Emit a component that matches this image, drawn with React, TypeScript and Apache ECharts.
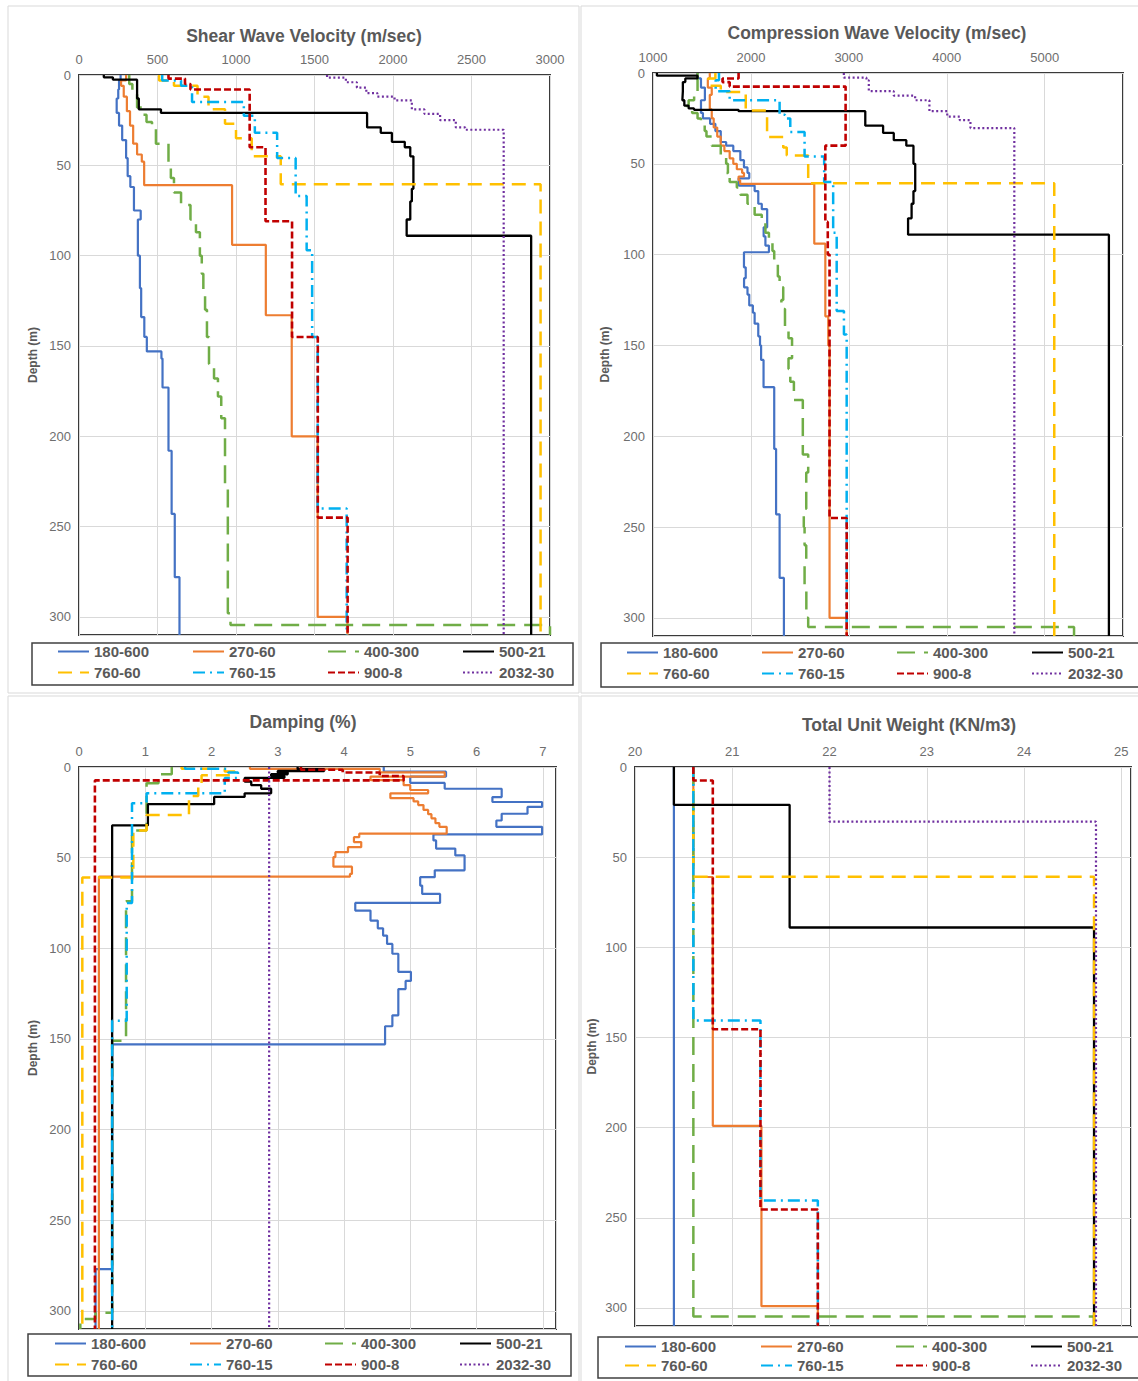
import React, { useEffect, useRef } from 'react';
import * as echarts from 'echarts';

// ---------------- DATA ----------------
// Each profile: list of [layer top depth (m), value]; last layer runs to DEPTH_MAX.
const SITES = ['180-600', '270-60', '400-300', '500-21', '760-60', '760-15', '900-8', '2032-30'];
const DEPTH_MAX = 310;
const DEPTH_TICK = 50;

// Shear wave velocity (m/sec)
const VS_180_600 = [[0,265],[3,255],[8,250],[13,240],[21,255],[28,275],[36,300],[46,310],[56,327],[62,350],[75,393],[80,375],[100,388],[118,396],[134,416],[145,432],[153,525],[157,532],[173,570],[208,590],[243,610],[278,640]];
const VS_270_60 = [[0,300],[3,268],[6,285],[12,305],[20,325],[28,345],[38,370],[44,400],[48,415],[61,975],[94,1190],[133,1355],[200,1520],[300,1710]];
const VS_400_300 = [[0,320],[5,340],[10,370],[18,400],[22,430],[26,465],[30,490],[38,570],[50,585],[57,605],[65,650],[72,710],[80,745],[87,770],[100,782],[110,792],[120,803],[130,815],[145,828],[160,860],[168,885],[178,906],[190,930],[228,948],[298,965],[304.5,3000]];
const VS_500_21 = [[0,158],[1.3,216],[2.6,370],[13,381],[19,522],[21,1835],[29,1922],[32,1993],[37,2075],[40,2110],[45,2130],[63,2120],[70,2110],[80,2087],[89,2880]];
const VS_760_60 = [[0,510],[3,605],[6,755],[12,825],[19,930],[27,1000],[35,1100],[45,1285],[60.5,2940]];
const VS_760_15 = [[0,530],[3,650],[6,720],[15,1050],[22.6,1120],[32,1262],[46,1380],[67,1450],[97,1485],[145,1520],[240,1705]];
const VS_900_8 = [[0,570],[2,675],[5,710],[8,1087],[40,1188],[81,1357],[145,1521],[245,1711]];
const VS_2032_30 = [[0,1580],[1.5,1700],[4,1770],[7,1830],[10,1900],[12,2010],[14,2120],[19,2200],[21.5,2300],[25,2400],[29,2460],[30.3,2705]];

// Compression wave velocity (m/sec)
const VP_180_600 = [[0,1455],[3,1490],[8,1530],[15,1490],[22,1510],[25,1583],[28,1637],[32,1692],[38,1747],[40,1820],[43,1892],[48,1929],[52,1965],[55,1983],[58,1875],[62,2038],[65,2075],[72,2111],[75,2166],[85,2130],[90,2148],[95,2184],[98.7,1929],[107,1947],[113,1930],[118,1965],[122,1983],[128,2020],[132,2038],[138,2075],[145,2093],[150,2104],[158,2129],[173,2238],[207,2257],[243,2293],[278,2337]];
const VP_270_60 = [[0,1580],[3,1560],[8,1600],[12,1580],[20,1600],[25,1620],[30,1656],[35,1692],[40,1729],[43,1783],[47,1820],[50,1856],[53,1910],[55,1929],[57,1874],[59,1890],[61,2647],[94,2760],[134,2790],[150,2803],[300,2978]];
const VP_400_300 = [[0,1455],[10,1420],[15,1364],[18,1346],[20,1400],[22,1455],[25,1490],[28,1528],[32,1546],[35,1600],[40,1692],[45,1747],[50,1765],[55,1747],[57,1783],[60,1856],[63,1892],[67,1965],[72,2038],[78,2111],[82,2148],[88,2184],[93,2220],[98,2238],[103,2275],[112,2293],[118,2330],[125,2311],[130,2348],[140,2384],[146,2420],[157,2384],[163,2402],[170,2439],[180,2530],[210,2585],[220,2565],[240,2540],[250,2548],[260,2565],[270,2548],[285,2566],[300,2585],[305,5300]];
const VP_500_21 = [[0,1040],[1.5,1455],[3,1330],[5,1305],[10,1300],[15,1320],[18,1364],[19.5,1419],[20.3,1874],[21,3168],[29,3350],[33,3459],[37,3587],[40,3660],[50,3678],[65,3660],[72,3641],[80,3605],[89,5656]];
const VP_760_60 = [[0,1637],[3,1565],[7,1692],[10.5,1947],[20.6,2165],[35.3,2330],[41,2366],[45.4,2585],[60.7,5098]];
const VP_760_15 = [[0,1674],[4,1640],[10,1783],[15,2293],[23,2348],[25,2402],[32.5,2548],[46,2748],[60,2840],[88,2876],[131,2950],[144,2978]];
const VP_900_8 = [[0,1874],[3,1710],[5,1783],[7.5,2967],[40,2760],[82,2785],[100,2803],[245,2978]];
const VP_2032_30 = [[0,2949],[2.6,3180],[4,3204],[10,3459],[12.5,3677],[15,3823],[21,4005],[24,4133],[26,4242],[30.3,4690]];

// Damping (%)
const DMP_180_600 = [[0,4.6],[2.6,5.54],[5.3,5.0],[8.8,5.52],[12,6.38],[16.6,6.24],[19.3,6.99],[22,6.77],[25.8,6.38],[29.5,6.3],[33,6.99],[37.2,5.35],[40.5,5.39],[45,5.68],[48.8,5.82],[57,5.37],[60.8,5.15],[65.4,5.18],[70,5.45],[75,4.17],[79.2,4.4],[84.7,4.51],[89,4.59],[93,4.65],[97.6,4.73],[103,4.82],[113,5.01],[118,4.93],[122.5,4.82],[137,4.73],[143,4.62],[153,0.5],[277,0.25]];
const DMP_270_60 = [[0,2.58],[1,4.54],[3,5.52],[5.3,4.4],[7.2,4.9],[10,5.0],[12.7,5.27],[14.5,4.7],[17.2,5.05],[19,5.12],[21,5.2],[23.7,5.27],[26,5.32],[28.3,5.38],[31,5.44],[33,5.55],[36.8,4.23],[38.7,4.15],[41.4,4.26],[44.2,4.06],[47,3.87],[49.7,3.84],[55,4.12],[59,4.09],[60.5,0.3]];
const DMP_400_300 = [[0,1.4],[4,1.2],[9,1.02],[35,0.8],[74,0.71],[151,0.5],[301,0.25],[304.5,0.02]];
const DMP_500_21 = [[0,3.3],[1.2,3.7],[2.2,3.0],[3,3.15],[4,2.9],[5,3.1],[6,2.5],[8,2.6],[10,2.75],[12,2.9],[14.5,2.5],[16.5,2.04],[20.5,1.04],[32.2,0.5]];
const DMP_760_60 = [[0,1.55],[1,2.2],[2.5,2.35],[4.5,1.85],[9,1.8],[16,1.66],[26.5,1.02],[35,0.82],[61,0.05]];
const DMP_760_15 = [[0,1.6],[1,2.25],[3,2.4],[6,2.2],[14.5,1.02],[20,0.8],[75,0.72],[140,0.5]];
const DMP_900_8 = [[0,3.35],[1.5,3.98],[3,4.54],[5,4.9],[7.4,0.24]];
const DMP_2032_30 = [[0,2.87]];

// Total unit weight (KN/m3)
const UW_180_600 = [[0,20.4]];
const UW_270_60 = [[0,20.6],[61,20.8],[199,21.3],[299,21.88]];
const UW_400_300 = [[0,20.6],[304.8,24.72]];
const UW_500_21 = [[0,20.4],[21,21.59],[89,24.72]];
const UW_760_60 = [[0,20.6],[60.8,24.72]];
const UW_760_15 = [[0,20.6],[140.6,21.29],[240.4,21.88]];
const UW_900_8 = [[0,20.6],[7.5,20.8],[145.4,21.29],[245.4,21.88]];
const UW_2032_30 = [[0,22.0],[30.3,24.74]];

const PANEL_TITLES = ['Shear Wave Velocity (m/sec)', 'Compression Wave Velocity (m/sec)', 'Damping (%)', 'Total Unit Weight (KN/m3)'];
const X_MIN = [0, 1000, 0, 20];
const X_MAX = [3000, 5800, 7.2, 25.1];
const X_INTERVAL = [500, 1000, 1, 1];
const PANEL_DATA = [
  [VS_180_600, VS_270_60, VS_400_300, VS_500_21, VS_760_60, VS_760_15, VS_900_8, VS_2032_30],
  [VP_180_600, VP_270_60, VP_400_300, VP_500_21, VP_760_60, VP_760_15, VP_900_8, VP_2032_30],
  [DMP_180_600, DMP_270_60, DMP_400_300, DMP_500_21, DMP_760_60, DMP_760_15, DMP_900_8, DMP_2032_30],
  [UW_180_600, UW_270_60, UW_400_300, UW_500_21, UW_760_60, UW_760_15, UW_900_8, UW_2032_30],
];

// ---------------- STYLE / LAYOUT ----------------
const FONT = '"Liberation Sans", Arial, sans-serif';
const STYLES = [
  { color: '#4472C4', width: 2.2, type: 'solid' as any },
  { color: '#ED7D31', width: 2.2, type: 'solid' as any },
  { color: '#70AD47', width: 2.5, type: [18, 9] },
  { color: '#000000', width: 2.3, type: 'solid' as any },
  { color: '#FFC000', width: 2.5, type: [14, 8] },
  { color: '#00B0F0', width: 2.5, type: [12, 5, 2, 5] },
  { color: '#C00000', width: 2.6, type: [7, 3] },
  { color: '#7030A0', width: 2.2, type: [2, 2.5] },
];

const LAYOUT = [
  { left: 79, top: 75, width: 471, height: 560, titleX: 304, titleY: 27, nameGap: 40,
    legendBox: [32, 643, 541, 42], cols: [57, 192, 327, 462], rows: [653, 674], area: [8, 6, 571, 687] },
  { left: 653, top: 73, width: 470, height: 563, titleX: 877, titleY: 24, nameGap: 42,
    legendBox: [601, 643, 545, 44], cols: [626, 761, 896, 1031], rows: [654, 675], area: [581, 6, 562, 687] },
  { left: 79, top: 767, width: 477, height: 562, titleX: 303, titleY: 713, nameGap: 40,
    legendBox: [28, 1334, 543, 42], cols: [54, 189, 324, 459], rows: [1345, 1366], area: [8, 696, 571, 690] },
  { left: 635, top: 767, width: 496, height: 559, titleX: 909, titleY: 716, nameGap: 37,
    legendBox: [598, 1337, 545, 41], cols: [624, 760, 895, 1030], rows: [1348, 1367], area: [581, 696, 562, 690] },
];

function steps(layers: number[][], bottom: number): number[][] {
  const pts: number[][] = [];
  for (let i = 0; i < layers.length; i++) {
    const top = layers[i][0];
    const v = layers[i][1];
    const bot = i + 1 < layers.length ? layers[i + 1][0] : bottom;
    pts.push([v, top], [v, bot]);
  }
  return pts;
}

function buildOption() {
  const grid = LAYOUT.map((l) => ({
    left: l.left, top: l.top, width: l.width, height: l.height,
    show: true, borderColor: '#3a3a3a', borderWidth: 2, backgroundColor: 'transparent',
  }));
  const xAxis = LAYOUT.map((_, i) => ({
    type: 'value', gridIndex: i, position: 'top',
    min: X_MIN[i], max: X_MAX[i], interval: X_INTERVAL[i],
    axisLine: { show: false }, axisTick: { show: false },
    splitLine: { show: true, lineStyle: { color: '#d9d9d9', width: 1 } },
    axisLabel: {
      color: '#6e6e6e', fontSize: 13, margin: 9, fontFamily: FONT, showMaxLabel: i === 0,
      formatter: (v: number) => String(v),
    },
  }));
  const yAxis = LAYOUT.map((l, i) => ({
    type: 'value', gridIndex: i, inverse: true, min: 0, max: DEPTH_MAX, interval: DEPTH_TICK,
    name: 'Depth (m)', nameLocation: 'middle', nameGap: l.nameGap, nameRotate: 90,
    nameTextStyle: { fontSize: 12, fontWeight: 'bold', color: '#595959', fontFamily: FONT },
    axisLine: { show: false }, axisTick: { show: false },
    splitLine: { show: true, lineStyle: { color: '#d9d9d9', width: 1 } },
    axisLabel: {
      color: '#6e6e6e', fontSize: 13, margin: 8, fontFamily: FONT, showMaxLabel: false,
      formatter: (v: number) => String(v),
    },
  }));
  const series: any[] = [];
  PANEL_DATA.forEach((panel, p) => {
    panel.forEach((layers, s) => {
      series.push({
        type: 'line', name: SITES[s], xAxisIndex: p, yAxisIndex: p,
        data: steps(layers, DEPTH_MAX), symbol: 'none', showSymbol: false,
        clip: true, animation: false,
        lineStyle: { color: STYLES[s].color, width: STYLES[s].width, type: STYLES[s].type },
        itemStyle: { color: STYLES[s].color },
        emphasis: { disabled: true },
      });
    });
  });
  const legend: any[] = [];
  LAYOUT.forEach((l) => {
    SITES.forEach((name, s) => {
      legend.push({
        data: [name], left: l.cols[s % 4], top: l.rows[Math.floor(s / 4)] - 9,
        orient: 'horizontal', itemWidth: 31, itemHeight: 14, padding: 0,
        selectedMode: false, itemStyle: { opacity: 0 },
        textStyle: { fontSize: 15, fontWeight: 'bold', color: '#595959', fontFamily: FONT },
      });
    });
  });
  const title = LAYOUT.map((l, i) => ({
    text: PANEL_TITLES[i], left: l.titleX, top: l.titleY, textAlign: 'center',
    padding: 0,
    textStyle: { fontSize: 17.5, fontWeight: 'bold', color: '#595959', fontFamily: FONT },
  }));
  const graphic: any[] = [];
  LAYOUT.forEach((l) => {
    graphic.push({
      type: 'rect', silent: true, z: -10,
      shape: { x: l.area[0], y: l.area[1], width: l.area[2], height: l.area[3] },
      style: { fill: 'none', stroke: '#d9d9d9', lineWidth: 1 },
    });
    graphic.push({
      type: 'rect', silent: true,
      shape: { x: l.legendBox[0], y: l.legendBox[1], width: l.legendBox[2], height: l.legendBox[3] },
      style: { fill: 'none', stroke: '#404040', lineWidth: 1.5 },
    });
  });
  return {
    animation: false,
    backgroundColor: '#ffffff',
    textStyle: { fontFamily: FONT },
    title, grid, xAxis, yAxis, series, legend, graphic,
  };
}

export default function App() {
  const ref = useRef<HTMLDivElement>(null);
  useEffect(() => {
    if (!ref.current) return;
    const chart = echarts.init(ref.current, undefined, { renderer: 'svg' });
    chart.setOption(buildOption() as any);
    return () => chart.dispose();
  }, []);
  return (
    <div
      ref={ref}
      style={{ position: 'absolute', left: 0, top: 0, width: 1138, height: 1381, background: '#fff' }}
    />
  );
}
